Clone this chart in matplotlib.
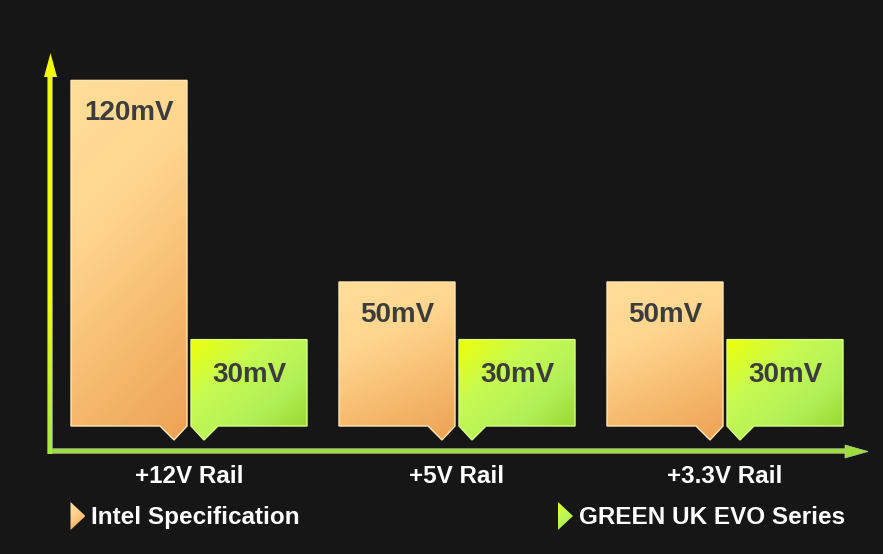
import numpy as np
import matplotlib
matplotlib.use("Agg")
import matplotlib.pyplot as plt
from matplotlib.patches import Polygon
from matplotlib.colors import LinearSegmentedColormap, to_rgb
from matplotlib.collections import LineCollection

plt.rcParams['font.family'] = ['Liberation Sans', 'DejaVu Sans']

# data
rails = ["+12V Rail", "+5V Rail", "+3.3V Rail"]
intel_spec = [120, 50, 50]
green_evo = [30, 30, 30]
value_labels_intel = ["120mV", "50mV", "50mV"]
value_labels_green = ["30mV", "30mV", "30mV"]
series_names = ["Intel Specification", "GREEN UK EVO Series"]

W, H = 883, 554
BG = "#161616"
PX_X = 268.0      # pixels per category step
PX_Y = 2.88       # pixels per mV
X0, Y0 = 189.0, 426.0   # pixel position of category 0 / value 0 (from top)

intel_cmap = LinearSegmentedColormap.from_list(
    "intel", ["#FFDE98", "#FFD690", "#F6BC70", "#EDA254"])
green_cmap = LinearSegmentedColormap.from_list(
    "green", ["#EEFF08", "#C6FA52", "#B2F058", "#94D226"])

fig = plt.figure(figsize=(W / 100, H / 100), dpi=100, facecolor=BG)
ax = fig.add_axes([0, 0, 1, 1])
ax.set_facecolor(BG)
ax.set_xlim(-X0 / PX_X, (W - X0) / PX_X)
ax.set_ylim(-(H - Y0) / PX_Y, Y0 / PX_Y)
ax.axis("off")


def to_data(px, py):
    # pixel (from top-left) -> data coords
    return ax.transData.inverted().transform((px, H - py))


def grad_poly(verts, cmap, edge, wu=0.35, wv=0.65, z=2, lw=1.0):
    verts = np.asarray(verts)
    x0, x1 = verts[:, 0].min(), verts[:, 0].max()
    y0, y1 = verts[:, 1].min(), verts[:, 1].max()
    u = np.linspace(0, 1, 200)
    v = np.linspace(0, 1, 200)
    U, V = np.meshgrid(u, v)
    T = wu * U + wv * V   # row 0 at top (origin upper)
    patch = Polygon(verts, closed=True, facecolor="none", edgecolor="none")
    ax.add_patch(patch)
    im = ax.imshow(T, cmap=cmap, vmin=0, vmax=1, extent=(x0, x1, y0, y1),
                   origin="upper", aspect="auto", zorder=z, interpolation="bilinear")
    im.set_clip_path(patch)
    ax.add_patch(Polygon(verts, closed=True, facecolor="none", edgecolor=edge,
                         lw=lw, zorder=z + 0.5))


bw = 116 / PX_X
off = 60 / PX_X
notch = 27 / PX_X
tipx = 13 / PX_X
tipy = 14 / PX_Y

for i, (a, b) in enumerate(zip(intel_spec, green_evo)):
    # intel bar, pointer at bottom right
    l = i - off - bw / 2
    r = l + bw
    verts = [(l, a), (r, a), (r, 0), (r - tipx, -tipy), (r - notch, 0), (l, 0)]
    grad_poly(verts, intel_cmap, "#FFE6B4", wu=0.25, wv=0.75)
    ax.annotate(value_labels_intel[i], (i - off, a), xytext=(0, -33),
                textcoords="offset pixels", ha="center", va="center",
                fontsize=20, fontweight="bold", color="#3C3C3C", zorder=5)
    # green bar, pointer at bottom left
    l = i + off - bw / 2
    r = l + bw
    verts = [(l, b), (r, b), (r, 0), (l + notch, 0), (l + tipx, -tipy), (l, 0)]
    grad_poly(verts, green_cmap, "#D6FF8A", wu=0.5, wv=0.5)
    ax.annotate(value_labels_green[i], (i + off, b), xytext=(0, -35),
                textcoords="offset pixels", ha="center", va="center",
                fontsize=20, fontweight="bold", color="#3C3C3C", zorder=5)

# category labels
for i, name in enumerate(rails):
    ax.text(i, to_data(0, 483)[1], name, ha="center", va="baseline",
            fontsize=17.5, fontweight="bold", color="white")

# axes arrows
gray = "#A8A8A0"
xa, ya_bot = to_data(50.5, 453.5)
_, ya_top = to_data(50.5, 76)
ax.plot([xa, xa], [ya_bot, ya_top], color=gray, lw=4.0, solid_capstyle="butt", zorder=1)
ys = np.linspace(ya_bot, ya_top, 120)
segs = [[(xa, ys[k]), (xa, ys[k + 1])] for k in range(len(ys) - 1)]
c_bot, c_top = np.array(to_rgb("#A4EC40")), np.array(to_rgb("#F2FF00"))
cols = [c_bot + (c_top - c_bot) * min(1, k / 50) for k in range(len(segs))]
ax.add_collection(LineCollection(segs, colors=cols, lw=2.9, zorder=1.2,
                                 capstyle="butt"))
ax.add_patch(Polygon([to_data(50.5, 53), to_data(57, 77), to_data(44, 77)],
                     closed=True, facecolor="#F2FF00", edgecolor="none", zorder=1.3))

x_l, yh = to_data(48.5, 451.5)
x_r, _ = to_data(846, 451.5)
ax.plot([x_l, x_r], [yh, yh], color=gray, lw=4.0, solid_capstyle="butt", zorder=1)
ax.plot([x_l, x_r], [yh, yh], color="#9EDE3A", lw=2.9, solid_capstyle="butt", zorder=1.1)
ax.add_patch(Polygon([to_data(868, 451.5), to_data(845, 445), to_data(845, 458)],
                     closed=True, facecolor="#9EDE3A", edgecolor="#B8C8A0",
                     lw=0.5, zorder=1.3))

# legend
leg = [(70.5, 91, intel_cmap, series_names[0]), (558, 579, green_cmap, series_names[1])]
for tx, lx, cm, name in leg:
    tri = [to_data(tx, 502), to_data(tx + 15, 516), to_data(tx, 530)]
    grad_poly(tri, cm, "none", wu=0.3, wv=0.7, lw=0)
    ax.text(to_data(lx, 0)[0], to_data(0, 524)[1], name, ha="left", va="baseline",
            fontsize=17.5, fontweight="bold", color="white")

fig.savefig("out.png", dpi=100, facecolor=BG)
plt.close(fig)
